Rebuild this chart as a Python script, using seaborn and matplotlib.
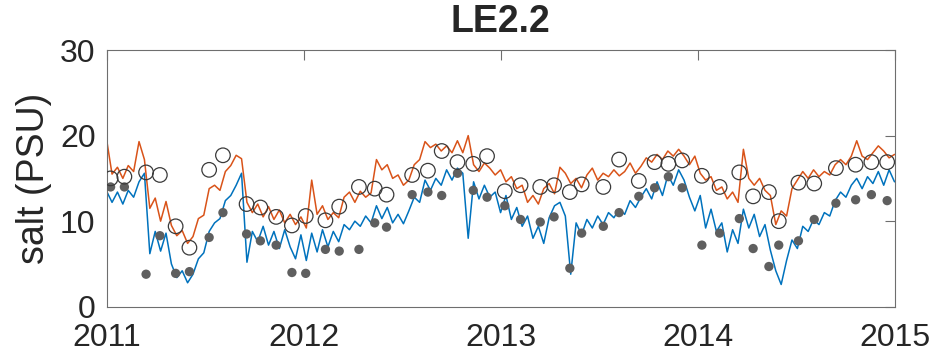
import numpy as np
import pandas as pd
import seaborn as sns
import matplotlib.pyplot as plt

# modelled salinity, one value every 10 days from 2011-01-01
surface_salt = [
    19.5, 15.5, 16.3, 15.0, 16.5, 15.8, 19.3, 17.2, 11.5, 12.7,
    10.0, 12.3, 9.5, 8.3, 8.9, 7.4, 8.2, 10.3, 10.7, 13.8,
    14.2, 13.6, 15.8, 16.5, 17.7, 17.3, 12.2, 11.0, 12.0, 10.5,
    11.7, 10.2, 11.3, 9.8, 10.8, 9.6, 10.5, 9.2, 14.8, 10.8,
    11.8, 10.2, 11.0, 10.4, 12.8, 13.4, 12.2, 13.5, 12.8, 13.3,
    17.2, 16.0, 16.6, 15.0, 15.4, 14.2, 14.8, 16.6, 17.2, 19.3,
    18.6, 19.0, 18.2, 18.8, 18.0, 19.4, 18.0, 20.0, 16.6, 15.8,
    16.8, 16.2, 15.4, 16.0, 14.6, 15.2, 13.8, 14.2, 12.2, 13.0,
    12.0, 13.8, 14.4, 13.2, 16.3, 15.6, 14.4, 15.0, 13.9, 15.4,
    16.2, 14.8, 15.6, 15.2, 16.0, 15.3, 15.8, 16.8, 15.6, 16.4,
    17.4, 16.9, 17.8, 17.2, 18.2, 17.6, 18.4, 17.6, 16.6, 17.6,
    15.6, 14.8, 15.2, 13.6, 14.0, 12.6, 13.4, 12.2, 18.4, 15.0,
    14.2, 15.0, 13.6, 13.0, 9.6, 11.2, 10.6, 13.8, 14.8, 15.8,
    15.0, 16.0, 15.2, 15.8, 15.4, 16.6, 17.2, 16.6, 17.6, 19.4,
    17.6, 17.2, 18.0, 18.8, 18.2, 17.4, 17.8,
]
bottom_salt = [
    13.5, 12.2, 13.4, 12.0, 13.6, 12.8, 14.6, 15.6, 6.2, 8.8,
    6.5, 8.6, 5.0, 3.4, 4.2, 2.8, 3.8, 5.6, 6.3, 8.8,
    9.8, 10.3, 12.4, 13.0, 14.2, 15.6, 5.2, 8.8, 7.6, 9.4,
    7.2, 8.8, 6.8, 9.0, 7.0, 5.6, 8.4, 5.4, 8.6, 6.4,
    9.0, 7.0, 8.8, 7.6, 9.6, 9.0, 10.0, 9.4, 10.6, 9.8,
    11.8, 10.3, 11.6, 9.8, 10.8, 9.7, 11.2, 12.8, 12.2, 14.8,
    13.6, 15.0, 14.2, 16.0, 14.8, 16.2, 15.6, 8.0, 14.6, 12.6,
    14.2, 12.8, 13.4, 11.0, 13.0, 10.2, 11.6, 9.4, 10.6, 8.0,
    9.4, 7.4, 10.4, 11.8, 12.2, 10.6, 3.8, 9.8, 8.4, 10.2,
    9.2, 10.6, 9.6, 11.0, 10.4, 11.4, 10.8, 12.4, 11.6, 12.8,
    13.8, 12.6, 14.6, 13.0, 15.4, 14.2, 16.0, 14.8, 12.8, 11.2,
    13.0, 9.2, 11.4, 8.8, 9.8, 6.4, 9.0, 7.4, 11.4, 9.2,
    10.8, 8.2, 9.6, 6.6, 4.2, 2.6, 5.4, 7.8, 6.8, 9.4,
    8.8, 10.2, 9.6, 11.0, 10.6, 12.4, 13.4, 12.8, 14.2, 15.0,
    13.8, 15.2, 14.4, 15.8, 14.2, 16.0, 14.6,
]

# observations (decimal year)
obs_year = [
    2011.02, 2011.09, 2011.20, 2011.27, 2011.35, 2011.42, 2011.52, 2011.59,
    2011.71, 2011.78, 2011.86, 2011.94, 2012.01, 2012.11, 2012.18, 2012.28,
    2012.36, 2012.42, 2012.55, 2012.63, 2012.70, 2012.78, 2012.86, 2012.93,
    2013.02, 2013.10, 2013.20, 2013.27, 2013.35, 2013.41, 2013.52, 2013.60,
    2013.70, 2013.78, 2013.85, 2013.92, 2014.02, 2014.11, 2014.21, 2014.28,
    2014.36, 2014.41, 2014.51, 2014.59, 2014.70, 2014.80, 2014.88, 2014.96,
]
obs_surface = [
    15.0, 15.2, 15.7, 15.4, 9.4, 6.9, 16.0, 17.7, 12.0, 11.6, 10.5, 9.5,
    10.6, 10.1, 11.7, 14.0, 13.8, 13.1, 15.4, 15.9, 18.2, 16.9, 16.7, 17.6,
    13.5, 14.2, 14.0, 14.2, 13.4, 14.3, 14.0, 17.2, 14.7, 16.9, 16.7, 17.1,
    15.3, 14.0, 15.7, 12.9, 13.4, 10.0, 14.5, 14.4, 16.2, 16.6, 16.9, 16.9,
]
obs_bottom = [
    14.0, 14.0, 3.8, 8.3, 3.9, 4.1, 8.1, 11.0, 8.5, 7.7, 7.2, 4.0,
    3.9, 6.7, 6.5, 6.7, 9.8, 9.3, 13.1, 13.4, 13.0, 15.6, 13.6, 12.8,
    11.8, 10.2, 9.9, 10.5, 4.5, 8.6, 9.4, 11.0, 12.9, 13.9, 15.2, 13.9,
    7.2, 8.6, 10.3, 6.8, 4.7, 7.2, 7.7, 10.2, 12.1, 12.5, 13.1, 12.4,
]

year_ticks = [2011, 2012, 2013, 2014, 2015]
salt_ticks = [0, 10, 20, 30]

model_year = 2011 + np.arange(len(surface_salt)) * 10 / 365.25
model = pd.DataFrame({"year": model_year, "surface": surface_salt, "bottom": bottom_salt})
obs = pd.DataFrame({"year": obs_year, "surface": obs_surface, "bottom": obs_bottom})

sns.set_style("white")
plt.rcParams["font.family"] = ["Liberation Sans", "DejaVu Sans"]

fig = plt.figure(figsize=(9.38, 3.55), dpi=100)
ax = fig.add_axes([0.1137, 0.136, 0.8405, 0.723])

sns.lineplot(data=model, x="year", y="bottom", color="#0072BD", lw=1.1, ax=ax)
sns.lineplot(data=model, x="year", y="surface", color="#D95319", lw=1.1, ax=ax)
sns.scatterplot(data=obs, x="year", y="bottom", color="#5f5f5f", s=45,
                edgecolor="none", ax=ax, zorder=3)
sns.scatterplot(data=obs, x="year", y="surface", facecolor="none",
                edgecolor="#3a3a3a", s=110, linewidth=0.9, ax=ax, zorder=4)

ax.set_xlim(2011, 2015)
ax.set_ylim(0, 30)
ax.set_xticks(year_ticks)
ax.set_xticklabels([str(y) for y in year_ticks])
ax.set_yticks(salt_ticks)
ax.set_xlabel("")
ax.set_ylabel("salt (PSU)", fontsize=27, labelpad=6)
ax.set_title("LE2.2", fontsize=27, fontweight="bold", pad=13)

for s in ax.spines.values():
    s.set_color("#6e6e6e")
    s.set_linewidth(0.8)
ax.tick_params(direction="in", length=7, width=0.8, color="#6e6e6e",
               labelsize=23, top=True, right=True)
ax.tick_params(axis="x", pad=12)
ax.tick_params(axis="y", pad=8)

fig.savefig("out.png", dpi=100)
